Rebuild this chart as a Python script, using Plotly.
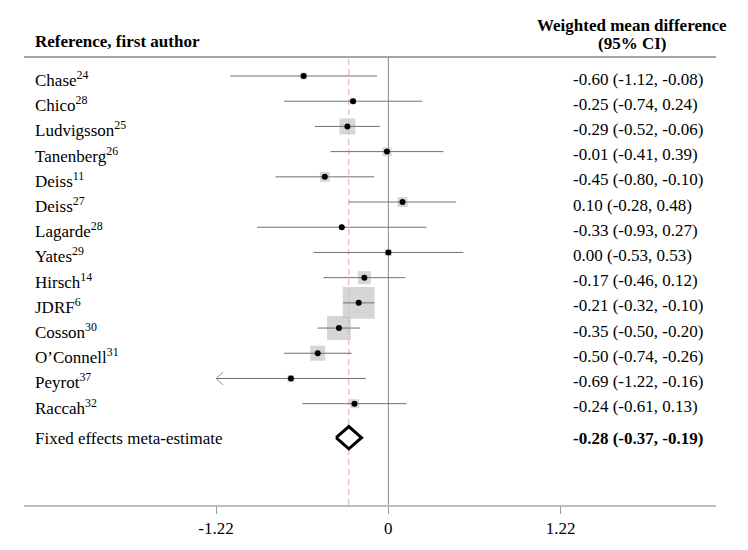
import math
import plotly.graph_objects as go

# ---------------- data ----------------
studies = ["Chase", "Chico", "Ludvigsson", "Tanenberg", "Deiss", "Deiss", "Lagarde",
           "Yates", "Hirsch", "JDRF", "Cosson", "O’Connell", "Peyrot", "Raccah"]
refs = ["24", "28", "25", "26", "11", "27", "28", "29", "14", "6", "30", "31", "37", "32"]
wmd = [-0.60, -0.25, -0.29, -0.01, -0.45, 0.10, -0.33, 0.00, -0.17, -0.21, -0.35, -0.50, -0.69, -0.24]
ci_low = [-1.12, -0.74, -0.52, -0.41, -0.80, -0.28, -0.93, -0.53, -0.46, -0.32, -0.50, -0.74, -1.22, -0.61]
ci_high = [-0.08, 0.24, -0.06, 0.39, -0.10, 0.48, 0.27, 0.53, 0.12, -0.10, -0.20, -0.26, -0.16, 0.13]
weights = [1.7, 1.3, 9.1, 2.9, 3.5, 3.5, 0.9, 1.7, 6.0, 36.3, 20.4, 8.0, 1.7, 2.9]  # % (box area)
meta_label = "Fixed effects meta-estimate"
meta_est, meta_low, meta_high = -0.28, -0.37, -0.19
tick_vals = [-1.22, 0, 1.22]
tick_text = ["-1.22", "0", "1.22"]

# ---------------- style ----------------
FONT = "Liberation Serif, Times New Roman, serif"
FS = 17
GRAY_LINE = "#707070"
BOX = "#c4c4c4"

n = len(studies)
rows = list(range(n))
meta_row = (n - 1) + 1.35
clip = min(tick_vals)

fig = go.Figure()

# reference lines (below traces)
fig.add_shape(type="line", xref="x", yref="paper", x0=0, x1=0, y0=0, y1=1,
              line=dict(color="#8a8a8a", width=1), layer="below")
fig.add_shape(type="line", xref="x", yref="paper", x0=meta_est, x1=meta_est, y0=0, y1=1,
              line=dict(color="#e6a3b3", width=1, dash="6px,4px"), layer="below")
# header rule
fig.add_shape(type="line", xref="paper", yref="paper", x0=0, x1=1, y0=1, y1=1,
              line=dict(color="#8a8a8a", width=1.3))

# weight boxes
fig.add_trace(go.Scatter(
    x=wmd, y=rows, mode="markers",
    marker=dict(symbol="square", size=[5.3 * math.sqrt(w) for w in weights],
                color=BOX, line=dict(width=0)),
    hoverinfo="skip", showlegend=False))

# CI lines
xs, ys = [], []
for lo, hi, r in zip(ci_low, ci_high, rows):
    xs += [max(lo, clip), hi, None]
    ys += [r, r, None]
fig.add_trace(go.Scatter(x=xs, y=ys, mode="lines",
                         line=dict(color=GRAY_LINE, width=1),
                         hoverinfo="skip", showlegend=False))

# open arrowheads where CI reaches the axis limit
ax, ay = [], []
for lo, r in zip(ci_low, rows):
    if lo <= clip:
        ax += [clip + 0.05, clip, clip + 0.05, None]
        ay += [r - 0.26, r, r + 0.26, None]
if ax:
    fig.add_trace(go.Scatter(x=ax, y=ay, mode="lines",
                             line=dict(color="#909090", width=1),
                             hoverinfo="skip", showlegend=False))

# point estimates
fig.add_trace(go.Scatter(x=wmd, y=rows, mode="markers",
                         marker=dict(symbol="circle", size=6, color="black"),
                         hoverinfo="skip", showlegend=False))

# meta-estimate diamond
dh = 0.44
fig.add_trace(go.Scatter(
    x=[meta_low, meta_est, meta_high, meta_est, meta_low],
    y=[meta_row, meta_row - dh, meta_row, meta_row + dh, meta_row],
    mode="lines", fill="toself", fillcolor="white",
    line=dict(color="black", width=3), hoverinfo="skip", showlegend=False))

# text columns
ann = []
name_x = 0.013
val_x = 0.790
for s, rf, r, e, lo, hi in zip(studies, refs, rows, wmd, ci_low, ci_high):
    ann.append(dict(x=name_x, xref="paper", y=r, yref="y", xanchor="left", yanchor="middle",
                    text=f"{s}<sup>{rf}</sup>", showarrow=False, yshift=-3))
    ann.append(dict(x=val_x, xref="paper", y=r, yref="y", xanchor="left", yanchor="middle",
                    text=f"{e:.2f} ({lo:.2f}, {hi:.2f})", showarrow=False, yshift=-3))
ann.append(dict(x=name_x, xref="paper", y=meta_row, yref="y", xanchor="left", yanchor="middle",
                text=meta_label, showarrow=False, yshift=-1))
ann.append(dict(x=val_x, xref="paper", y=meta_row, yref="y", xanchor="left", yanchor="middle",
                text=f"<b>{meta_est:.2f} ({meta_low:.2f}, {meta_high:.2f})</b>",
                showarrow=False, yshift=-1))
# headers (paper coordinates above the plot area)
ann.append(dict(x=name_x, xref="paper", y=1.034, yref="paper", xanchor="left", yanchor="middle",
                text="<b>Reference, first author</b>", showarrow=False))
ann.append(dict(x=0.879, xref="paper", y=1.071, yref="paper", xanchor="center", yanchor="middle",
                text="<b>Weighted mean difference</b>", showarrow=False))
ann.append(dict(x=0.879, xref="paper", y=1.031, yref="paper", xanchor="center", yanchor="middle",
                text="<b>(95% CI)</b>", showarrow=False))

fig.update_layout(
    width=748, height=550,
    # page body adds an 8px offset; margins compensate so the plot lands where the reference has it
    margin=dict(l=16, r=40, t=49, b=53),
    paper_bgcolor="white", plot_bgcolor="white",
    font=dict(family=FONT, size=FS, color="black"),
    annotations=ann,
    xaxis=dict(range=[-2.58, 2.32], showgrid=False, zeroline=False,
               showline=True, linecolor="#bdbdbd", linewidth=2,
               ticks="outside", ticklen=7, tickcolor="#9a9a9a", tickwidth=1,
               tickvals=tick_vals, ticktext=tick_text,
               tickfont=dict(family=FONT, size=FS, color="black")),
    yaxis=dict(range=[17.02, -0.754], visible=False, showgrid=False, zeroline=False),
)

fig.write_html("out.html")
